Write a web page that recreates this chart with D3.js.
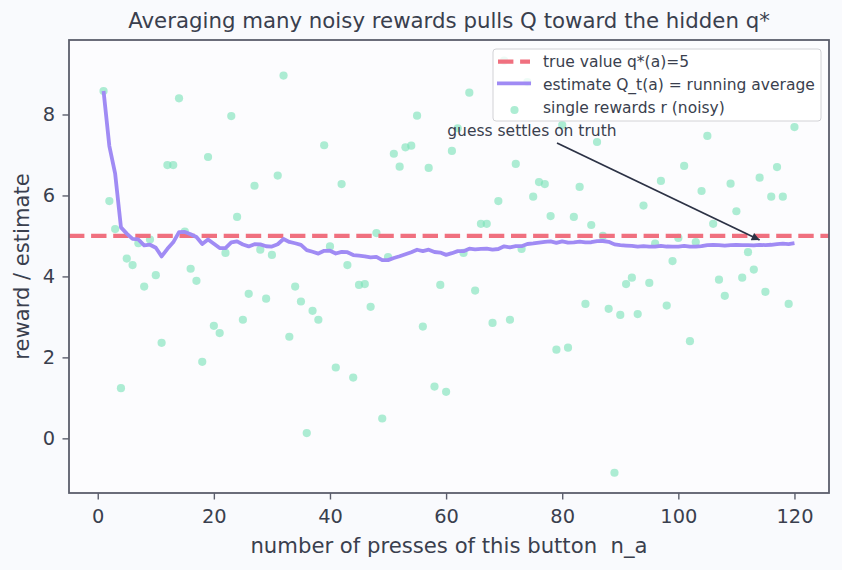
<!DOCTYPE html>
<html>
<head>
<meta charset="utf-8">
<script src="https://cdn.jsdelivr.net/npm/d3@7"></script>
<style>
  body { margin: 0; background: #f9fafd; }
  text { font-family: "DejaVu Sans", sans-serif; }
</style>
</head>
<body>
<div id="my_dataviz"></div>
<script>
// single noisy rewards, press 1..120
const rewards = [
  8.58, 5.86, 5.17, 1.24, 4.44, 4.28, 4.82, 3.75, 4.91, 4.03,
  2.36, 6.75, 6.75, 8.40, 5.11, 4.19, 3.89, 1.89, 6.95, 2.78,
  2.60, 4.58, 7.96, 5.47, 2.93, 3.57, 6.24, 4.66, 3.45, 4.53,
  6.49, 8.96, 2.51, 3.75, 3.38, 0.13, 3.15, 2.93, 7.24, 4.74,
  1.75, 6.28, 4.28, 1.50, 3.79, 3.81, 3.25, 5.07, 0.49, 4.48,
  7.03, 6.71, 7.19, 7.23, 7.97, 2.76, 6.68, 1.28, 3.79, 1.15,
  7.10, 7.66, 4.58, 8.54, 3.65, 5.30, 5.30, 2.85, 5.86, 9.33,
  2.93, 6.78, 4.68, 8.80, 5.97, 6.33, 6.28, 5.49, 2.19, 7.74,
  2.24, 5.47, 6.21, 3.32, 5.27, 7.32, 5.00, 3.20, -0.85, 3.05,
  3.81, 3.97, 3.07, 5.75, 3.84, 4.81, 6.36, 3.28, 4.38, 4.95,
  6.73, 2.40, 4.85, 6.11, 7.47, 5.30, 3.92, 3.52, 6.29, 5.61,
  3.97, 4.60, 4.17, 6.44, 3.62, 5.97, 6.70, 5.97, 3.32, 7.69
];
const trueValue = 5;
const xTicks = [0, 20, 40, 60, 80, 100, 120];
const yTicks = [0, 2, 4, 6, 8];
const legendLabels = ["true value q*(a)=5", "estimate Q_t(a) = running average", "single rewards r (noisy)"];
const note = {text: "guess settles on truth", x: 60.2, y: 7.58, tipX: 114, tipY: 4.9};

// presses and running average Q_t(a) = mean of rewards so far
const presses = rewards.map((d, i) => i + 1);
const sums = d3.cumsum(rewards);
const runningAvg = rewards.map((d, i) => sums[i] / (i + 1));

const W = 842, H = 570;
const margin = {top: 40, right: 13, bottom: 77, left: 69},
    width = W - margin.left - margin.right,
    height = H - margin.top - margin.bottom;

const ink = "#3a3f4e", spine = "#5b5e6c";
const red = "#f0707f", purple = "#a08bf4", green = "#7be2b8";

const root = d3.select("#my_dataviz").append("svg")
    .attr("width", W).attr("height", H);
root.append("rect").attr("width", W).attr("height", H).attr("fill", "#f9fafd");

const svg = root.append("g")
    .attr("transform", `translate(${margin.left},${margin.top})`);

svg.append("rect").attr("width", width).attr("height", height).attr("fill", "#fcfcfe");

const x = d3.scaleLinear().domain([-4.95, 125.95]).range([0, width]);
const y = d3.scaleLinear().domain([-1.35, 9.84]).range([height, 0]);

// clip so nothing spills out of the axes
svg.append("clipPath").attr("id", "clip")
  .append("rect").attr("width", width).attr("height", height);
const plot = svg.append("g").attr("clip-path", "url(#clip)");

// scatter of single rewards
plot.selectAll("circle.pt")
  .data(rewards)
  .join("circle")
    .attr("class", "pt")
    .attr("cx", (d, i) => x(presses[i]))
    .attr("cy", d => y(d))
    .attr("r", 4.1)
    .attr("fill", green)
    .attr("fill-opacity", 0.62);

// true value
plot.append("line")
  .attr("x1", 0).attr("x2", width)
  .attr("y1", y(trueValue)).attr("y2", y(trueValue))
  .attr("stroke", red).attr("stroke-width", 4.2)
  .attr("stroke-dasharray", "15.4,6.7");

// running average
plot.append("path")
  .datum(runningAvg)
  .attr("fill", "none")
  .attr("stroke", purple)
  .attr("stroke-width", 3.8)
  .attr("stroke-linejoin", "round")
  .attr("d", d3.line().x((d, i) => x(presses[i])).y(d => y(d)));

// axes
const xAxis = svg.append("g")
  .attr("transform", `translate(0,${height})`)
  .call(d3.axisBottom(x).tickValues(xTicks).tickSize(6.5).tickPadding(9.5));
const yAxis = svg.append("g")
  .call(d3.axisLeft(y).tickValues(yTicks).tickSize(6.5).tickPadding(7.5));
[xAxis, yAxis].forEach(a => {
  a.select(".domain").remove();
  a.selectAll("line").attr("stroke", spine).attr("stroke-width", 1.4);
  a.selectAll("text").attr("fill", ink).style("font-size", "19.4px")
    .attr("font-family", "DejaVu Sans");
});

// frame
svg.append("rect").attr("width", width).attr("height", height)
  .attr("fill", "none").attr("stroke", spine).attr("stroke-width", 1.8);

// annotation with arrow
root.append("defs").append("marker")
    .attr("id", "head")
    .attr("viewBox", "0 0 10 10")
    .attr("refX", 10).attr("refY", 5)
    .attr("markerWidth", 14).attr("markerHeight", 8)
    .attr("markerUnits", "userSpaceOnUse")
    .attr("orient", "auto")
  .append("path").attr("d", "M0,0L10,5L0,10Z").attr("fill", "#2c3245");

svg.append("text")
  .attr("x", x(note.x)).attr("y", y(note.y))
  .attr("dominant-baseline", "middle")
  .attr("fill", ink).style("font-size", "15.5px")
  .text(note.text);
svg.append("line")
  .attr("x1", 557 - margin.left).attr("y1", 143 - margin.top)
  .attr("x2", x(note.tipX)).attr("y2", y(note.tipY))
  .attr("stroke", "#2c3245").attr("stroke-width", 1.8)
  .attr("marker-end", "url(#head)");

// legend
const lg = svg.append("g").attr("transform", `translate(${493 - margin.left},${49 - margin.top})`);
lg.append("rect").attr("width", 328).attr("height", 72).attr("rx", 3)
  .attr("fill", "#ffffff").attr("fill-opacity", 0.8)
  .attr("stroke", "#d2d2d6").attr("stroke-width", 1);
lg.append("line").attr("x1", 5).attr("x2", 37).attr("y1", 12.7).attr("y2", 12.7)
  .attr("stroke", red).attr("stroke-width", 4.2).attr("stroke-dasharray", "15.4,6.7");
lg.append("line").attr("x1", 4).attr("x2", 38).attr("y1", 34.3).attr("y2", 34.3)
  .attr("stroke", purple).attr("stroke-width", 3.8);
lg.append("circle").attr("cx", 21.5).attr("cy", 61).attr("r", 4.1)
  .attr("fill", green).attr("fill-opacity", 0.62);
lg.selectAll("text.lab")
  .data(legendLabels)
  .join("text")
    .attr("class", "lab")
    .attr("x", 50)
    .attr("y", (d, i) => 13.5 + i * 22.8)
    .attr("dominant-baseline", "middle")
    .attr("fill", ink)
    .style("font-size", "15.5px")
    .text(d => d);

// titles
root.append("text")
  .attr("x", margin.left + width / 2).attr("y", 22)
  .attr("text-anchor", "middle").attr("dominant-baseline", "middle")
  .attr("fill", ink).style("font-size", "21.3px")
  .text("Averaging many noisy rewards pulls Q toward the hidden q*");
root.append("text")
  .attr("x", margin.left + width / 2).attr("y", 547)
  .attr("text-anchor", "middle").attr("dominant-baseline", "middle")
  .attr("fill", ink).style("font-size", "21.2px")
  .attr("xml:space", "preserve").style("white-space", "pre")
  .text("number of presses of this button  n_a");
root.append("text")
  .attr("transform", `translate(23,${margin.top + height / 2}) rotate(-90)`)
  .attr("text-anchor", "middle").attr("dominant-baseline", "middle")
  .attr("fill", ink).style("font-size", "21.1px")
  .text("reward / estimate");
</script>
</body>
</html>
